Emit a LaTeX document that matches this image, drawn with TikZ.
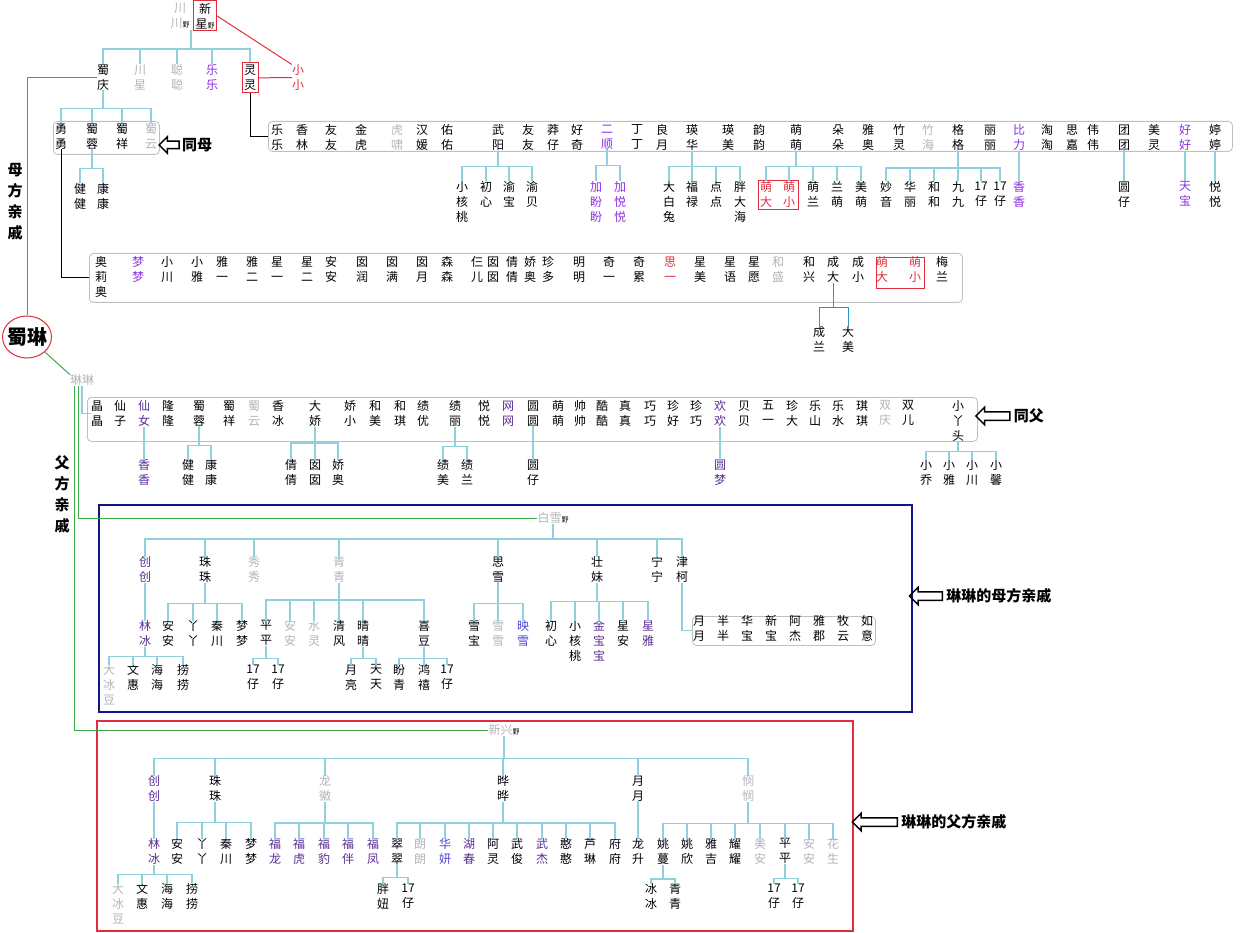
\documentclass[tikz,border=0pt]{standalone}
\usepackage{fontspec}
\setmainfont{Noto Sans CJK SC}
\usepackage{tikz}
\usetikzlibrary{shapes.geometric,shapes.arrows,positioning}

\definecolor{lnblue}{RGB}{145,207,222}
\definecolor{lndeep}{RGB}{40,150,205}
\definecolor{grayname}{RGB}{180,180,180}
\definecolor{purpname}{RGB}{140,45,230}
\definecolor{deepname}{RGB}{90,45,150}
\definecolor{bluename}{RGB}{75,70,215}
\definecolor{redname}{RGB}{225,45,60}
\definecolor{greenln}{RGB}{60,170,70}
\definecolor{navybox}{RGB}{20,20,135}

\newcommand{\yee}{{\color{black}\fontsize{7}{7}\selectfont 野}}

\begin{document}
\begin{tikzpicture}[x=1pt,y=-1pt]

\tikzstyle{nm}=[align=center,inner sep=0pt,anchor=north,yshift=5.5pt,font=\fontsize{12}{15}\selectfont]
\tikzstyle{gy}=[nm,text=grayname]
\tikzstyle{pu}=[nm,text=purpname]
\tikzstyle{dp}=[nm,text=deepname]
\tikzstyle{bp}=[nm,text=bluename]
\tikzstyle{rd}=[nm,text=redname]
\tikzstyle{redframe}=[draw=redname,line width=1pt,inner sep=2pt,yshift=2pt]
\tikzstyle{rowbox}=[draw=gray!50,line width=0.8pt,rounded corners=4pt,anchor=north west,inner sep=0pt]
\tikzstyle{frame}=[line width=1pt,anchor=north west,inner sep=0pt]
\tikzstyle{ln}=[draw=lnblue,line width=1.1pt]
\tikzstyle{gl}=[draw=greenln,line width=1pt]
\tikzstyle{tag}=[single arrow,draw,line width=1.5pt,shape border rotate=180,inner sep=0pt,single arrow head extend=4.5pt,single arrow head indent=0pt]
\tikzstyle{tagtext}=[font=\fontsize{15}{15}\selectfont\bfseries,inner sep=1pt]
\tikzstyle{side}=[align=center,font=\fontsize{15}{21}\selectfont\bfseries,inner sep=0pt]

\useasboundingbox (0,0) rectangle (1256,933);

% Grandparents
\node[gy] (chuan) at (180,8) {川\\川\yee};
\node[nm,redframe] (xinxing) at (205,8) {新\\星\yee};
\coordinate (grand) at (191,30);

% Their children
\node[nm] (shuqing) at (103,70) {蜀\\庆};
\node[gy] (chuanxing) at (140,70) {川\\星};
\node[gy] (congcong) at (177,70) {聪\\聪};
\node[pu] (lele) at (212,70) {乐\\乐};
\node[nm,redframe] (lingling) at (250,70) {灵\\灵};
\node[rd] (xiaoxiao) at (298,70) {小\\小};
\foreach \c in {shuqing,chuanxing,congcong,lele,lingling}
  \draw[ln] (grand) -- ++(0,19) -| (\c.north);
\draw[redname,line width=1pt] (xinxing.east) -- (xiaoxiao.north west);
\draw[redname,line width=1pt] (lingling.east) -- (xiaoxiao.west);

% Shulin and side labels
\node[ellipse,draw=redname,line width=1pt,minimum width=49,minimum height=42,inner sep=0pt] (shulin) at (27,337) {\makebox[0pt]{\fontsize{20}{20}\selectfont\bfseries 蜀琳}};
\node[side] (mufang) at (15,202) {母\\方\\亲\\戚};
\node[side] (fufang) at (62,494) {父\\方\\亲\\戚};
\draw[gl] (shuqing.west) -| (shulin.north);

% Shuqing's children
\node[rowbox,minimum width=106,minimum height=33] (box0) at (53,121) {};
\foreach \x/\t/\s [count=\i] in {61/勇\\勇/nm,92/蜀\\蓉/nm,122/蜀\\祥/nm,151/蜀\\云/gy}
  \node[\s] (q\i) at (\x,129) {\t};
\foreach \i in {1,...,4}
  \draw[ln] (shuqing.south) -- ++(0,18) -| (q\i.north);
\node[tag,minimum height=20] (tag0) at (171,145) {\rule{0pt}{6pt}};
\node[tagtext,right=1pt of tag0] (tongmu) {同母};
\node[nm] (jian) at (80,189) {健\\健};
\node[nm] (kang) at (103,189) {康\\康};
\foreach \c in {jian,kang}
  \draw[ln] (q2.south) -- ++(0,19) -| (\c.north);

% Lingling's row
\node[rowbox,minimum width=964,minimum height=30] (box1) at (268,121) {};
\foreach \x/\t/\s [count=\i] in {277/乐\\乐/nm,302/香\\林/nm,331/友\\友/nm,361/金\\虎/nm,
  397/虎\\啸/gy,422/汉\\媛/nm,447/佑\\佑/nm,498/武\\阳/nm,528/友\\友/nm,553/莽\\仔/nm,
  577/好\\奇/nm,607/二\\顺/pu,637/丁\\丁/nm,662/良\\月/nm,692/瑛\\华/nm,728/瑛\\美/nm,
  759/韵\\韵/nm,796/萌\\萌/nm,838/朵\\朵/nm,868/雅\\奥/nm,899/竹\\灵/nm,928/竹\\海/gy,
  958/格\\格/nm,990/丽\\丽/nm,1019/比\\力/pu,1047/淘\\淘/nm,1072/思\\嘉/nm,1093/伟\\伟/nm,
  1124/团\\团/nm,1154/美\\灵/nm,1185/好\\好/pu,1215/婷\\婷/nm}
  \node[\s] (a\i) at (\x,130) {\t};
\draw[line width=1pt] (lingling.south) |- (box1.west);

\foreach \x/\t/\s [count=\i] in {462/小\\核\\桃/nm,486/初\\心/nm,509/渝\\宝/nm,532/渝\\贝/nm,
  596/加\\盼\\盼/pu,620/加\\悦\\悦/pu,669/大\\白\\兔/nm,692/福\\禄/nm,716/点\\点/nm,
  740/胖\\大\\海/nm,766/萌\\大/rd,789/萌\\小/rd,813/萌\\兰/nm,837/兰\\萌/nm,861/美\\萌/nm,
  886/妙\\音/nm,910/华\\丽/nm,934/和\\和/nm,958/九\\九/nm,981/17\\仔/nm,1000/17\\仔/nm,
  1019/香\\香/pu,1124/圆\\仔/nm,1185/天\\宝/pu,1215/悦\\悦/nm}
  \node[\s] (b\i) at (\x,187) {\t};
\node[frame,draw=redname,minimum width=40,minimum height=29] (mengframe) at (758,180) {};
\foreach \i in {1,...,4} \draw[ln] (a8.south) -- ++(0,16) -| (b\i.north);
\foreach \i in {5,6} \draw[ln] (a12.south) -- ++(0,16) -| (b\i.north);
\foreach \i in {7,...,10} \draw[ln] (a15.south) -- ++(0,16) -| (b\i.north);
\foreach \i in {11,...,15} \draw[ln] (a18.south) -- ++(0,16) -| (b\i.north);
\foreach \i in {16,...,21} \draw[ln] (a23.south) -- ++(0,17) -| (b\i.north);
\draw[ln] (a25.south) -- (b22.north);
\draw[ln] (a29.south) -- (b23.north);
\draw[ln] (a31.south) -- (b24.north);
\draw[ln] (a32.south) -- (b25.north);

% Yongyong's row
\node[rowbox,minimum width=873,minimum height=49] (box2) at (89,253) {};
\foreach \x/\t/\s [count=\i] in {101/奥\\莉\\奥/nm,138/梦\\梦/pu,167/小\\川/nm,197/小\\雅/nm,
  222/雅\\一/nm,252/雅\\二/nm,277/星\\一/nm,307/星\\二/nm,331/安\\安/nm,362/囡\\润/nm,
  392/囡\\满/nm,422/囡\\月/nm,447/森\\森/nm,477/仨\\儿/nm,493/囡\\囡/nm,512/倩\\倩/nm,
  530/娇\\奥/nm,548/珍\\多/nm,579/明\\明/nm,609/奇\\一/nm,639/奇\\累/nm,670/思\\一/rd,
  700/星\\美/nm,730/星\\语/nm,754/星\\愿/nm,778/和\\盛/gy,809/和\\兴/nm,833/成\\大/nm,
  858/成\\小/nm,882/萌\\大/rd,915/萌\\小/rd,942/梅\\兰/nm}
  \node[\s] (c\i) at (\x,262) {\t};
\node[frame,draw=redname,minimum width=48,minimum height=31] (mengframe2) at (876,257) {};
\draw[line width=1pt] (q1.south) |- (box2.west);
\node[nm] (d1) at (819,332) {成\\兰};
\node[nm] (d2) at (848,332) {大\\美};
\foreach \i in {1,2} \draw[draw=lndeep,line width=1pt] (c28.south) -- ++(0,25) -| (d\i.north);

% Linlin and the half siblings
\node[gy] (linlin) at (82,380) {琳琳};
\draw[gl] (shulin.-40) -- (linlin.north west);
\node[rowbox,minimum width=890,minimum height=44] (box3) at (87,397) {};
\foreach \x/\t/\s [count=\i] in {97/晶\\晶/nm,120/仙\\子/nm,144/仙\\女/dp,168/隆\\隆/nm,
  199/蜀\\蓉/nm,229/蜀\\祥/nm,254/蜀\\云/gy,278/香\\冰/nm,315/大\\娇/nm,350/娇\\小/nm,
  375/和\\美/nm,400/和\\琪/nm,423/绩\\优/nm,455/绩\\丽/nm,484/悦\\悦/nm,508/网\\网/dp,
  533/圆\\圆/nm,558/萌\\萌/nm,580/帅\\帅/nm,602/酷\\酷/nm,625/真\\真/nm,650/巧\\巧/nm,
  673/珍\\好/nm,696/珍\\巧/nm,720/欢\\欢/dp,744/贝\\贝/nm,768/五\\一/nm,792/珍\\大/nm,
  815/乐\\山/nm,838/乐\\水/nm,862/琪\\琪/nm,885/双\\庆/gy,908/双\\儿/nm,958/小\\丫\\头/nm}
  \node[\s] (e\i) at (\x,406) {\t};
\draw[ln] (linlin.south) |- (e1.west);
\node[tag,minimum height=34] (tag1) at (995,416) {\rule{0pt}{7pt}};
\node[tagtext,right=2pt of tag1] (tongfu) {同父};

\foreach \x/\t/\s [count=\i] in {144/香\\香/dp,188/健\\健/nm,211/康\\康/nm,291/倩\\倩/nm,
  315/囡\\囡/nm,338/娇\\奥/nm,443/绩\\美/nm,467/绩\\兰/nm,533/圆\\仔/nm,720/圆\\梦/dp,
  926/小\\乔/nm,949/小\\雅/nm,972/小\\川/nm,996/小\\馨/nm}
  \node[\s] (f\i) at (\x,465) {\t};
\draw[ln] (e3.south) -- (f1.north);
\foreach \i in {2,3} \draw[ln] (e5.south) -- ++(0,19) -| (f\i.north);
\foreach \i in {4,5,6} \draw[ln] (e9.south) -- ++(0,16) -| (f\i.north);
\foreach \i in {7,8} \draw[ln] (e14.south) -- ++(0,20) -| (f\i.north);
\draw[ln] (e17.south) -- (f9.north);
\draw[ln] (e25.south) -- (f10.north);
\foreach \i in {11,...,14} \draw[ln] (e34.south) -- ++(0,10) -| (f\i.north);

% Mother side
\node[frame,draw=navybox,line width=1.6pt,minimum width=813,minimum height=207] (mombox) at (98,504) {};
\node[tag,minimum height=33] (tag2) at (928,596) {\rule{0pt}{7pt}};
\node[tagtext,right=2pt of tag2] (momtext) {琳琳的母方亲戚};
\node[gy] (baixue) at (553,518) {白雪\yee};
\draw[gl] ([xshift=-4pt]linlin.south) |- (baixue.west);

\foreach \x/\t/\s [count=\i] in {145/创\\创/dp,205/珠\\珠/nm,254/秀\\秀/gy,339/青\\青/gy,
  498/思\\雪/nm,597/壮\\妹/nm,657/宁\\宁/nm,682/津\\柯/nm}
  \node[\s] (g\i) at (\x,562) {\t};
\foreach \i in {1,...,8} \draw[ln] (baixue.south) -- ++(0,15) -| (g\i.north);

\foreach \x/\t/\s [count=\i] in {145/林\\冰/dp,168/安\\安/nm,193/丫\\丫/nm,217/秦\\川/nm,
  242/梦\\梦/nm,266/平\\平/nm,290/安\\安/gy,314/水\\灵/gy,339/清\\风/nm,363/晴\\晴/nm,
  424/喜\\豆/nm,474/雪\\宝/nm,498/雪\\雪/gy,523/映\\雪/bp,551/初\\心/nm,575/小\\核\\桃/nm,
  599/金\\宝\\宝/dp,623/星\\安/nm,648/星\\雅/dp}
  \node[\s] (h\i) at (\x,626) {\t};
\draw[ln] (g1.south) -- (h1.north);
\foreach \i in {2,...,5} \draw[ln] (g2.south) -- ++(0,21) -| (h\i.north);
\foreach \i in {6,...,11} \draw[ln] (g4.south) -- ++(0,17) -| (h\i.north);
\foreach \i in {12,13,14} \draw[ln] (g5.south) -- ++(0,21) -| (h\i.north);
\foreach \i in {15,...,19} \draw[ln] (g6.south) -- ++(0,19) -| (h\i.north);

\node[rowbox,minimum width=183,minimum height=29] (box4) at (692,616) {};
\foreach \x/\t [count=\i] in {699/月\\月,723/半\\半,747/华\\宝,771/新\\宝,795/阿\\杰,
  819/雅\\郡,843/牧\\云,867/如\\意}
  \node[nm] (p\i) at (\x,621) {\t};
\draw[ln] (g8.south) |- (box4.west);

\foreach \x/\t/\s [count=\i] in {109/大\\冰\\豆/gy,133/文\\惠/nm,157/海\\海/nm,183/捞\\捞/nm,
  253/17\\仔/nm,278/17\\仔/nm,351/月\\亮/nm,376/天\\天/nm,399/盼\\青/nm,424/鸿\\禧/nm,
  447/17\\仔/nm}
  \node[\s] (j\i) at (\x,670) {\t};
\foreach \i in {1,...,4} \draw[ln] (h1.south) -- ++(0,10) -| (j\i.north);
\foreach \i in {5,6} \draw[ln] (h6.south) -- ++(0,12) -| (j\i.north);
\foreach \i in {7,8} \draw[ln] (h10.south) -- ++(0,12) -| (j\i.north);
\foreach \i in {9,10,11} \draw[ln] (h11.south) -- ++(0,12) -| (j\i.north);

% Father side
\node[frame,draw=redname,line width=1.6pt,minimum width=756,minimum height=210] (dadbox) at (96,720) {};
\node[tag,minimum height=45] (tag3) at (877,822) {\rule{0pt}{7pt}};
\node[tagtext,right=2pt of tag3] (dadtext) {琳琳的父方亲戚};
\node[gy] (xinxingfu) at (504,730) {新兴\yee};
\draw[gl] ([xshift=-8pt]linlin.south) |- (xinxingfu.west);

\foreach \x/\t/\s [count=\i] in {154/创\\创/dp,215/珠\\珠/nm,325/龙\\徽/gy,503/晔\\晔/nm,
  638/月\\月/nm,748/悯\\悯/gy}
  \node[\s] (k\i) at (\x,781) {\t};
\foreach \i in {1,...,6} \draw[ln] (xinxingfu.south) -- ++(0,23) -| (k\i.north);

\foreach \x/\t/\s [count=\i] in {154/林\\冰/dp,177/安\\安/nm,202/丫\\丫/nm,226/秦\\川/nm,
  251/梦\\梦/nm,275/福\\龙/dp,299/福\\虎/dp,324/福\\豹/dp,348/福\\伴/dp,373/福\\凤/dp,
  397/翠\\翠/nm,420/朗\\朗/gy,445/华\\妍/bp,469/湖\\春/dp,493/阿\\灵/nm,517/武\\俊/nm,
  542/武\\杰/dp,566/憨\\憨/nm,590/芦\\琳/nm,615/府\\府/nm,638/龙\\升/nm,663/姚\\蔓/nm,
  687/姚\\欣/nm,711/雅\\吉/nm,735/耀\\耀/nm,760/美\\安/gy,785/平\\平/nm,809/安\\安/gy,
  833/花\\生/gy}
  \node[\s] (l\i) at (\x,844) {\t};
\draw[ln] (k1.south) -- (l1.north);
\foreach \i in {2,...,5} \draw[ln] (k2.south) -- ++(0,21) -| (l\i.north);
\foreach \i in {6,...,10} \draw[ln] (k3.south) -- ++(0,21) -| (l\i.north);
\foreach \i in {11,...,20} \draw[ln] (k4.south) -- ++(0,21) -| (l\i.north);
\draw[ln] (k5.south) -- (l21.north);
\foreach \i in {22,...,29} \draw[ln] (k6.south) -- ++(0,22) -| (l\i.north);

\foreach \x/\t/\s [count=\i] in {118/大\\冰\\豆/gy,142/文\\惠/nm,167/海\\海/nm,192/捞\\捞/nm,
  383/胖\\妞/nm,408/17\\仔/nm,651/冰\\冰/nm,675/青\\青/nm,774/17\\仔/nm,798/17\\仔/nm}
  \node[\s] (n\i) at (\x,889) {\t};
\foreach \i in {1,...,4} \draw[ln] (l1.south) -- ++(0,10) -| (n\i.north);
\foreach \i in {5,6} \draw[ln] (l11.south) -- ++(0,13) -| (n\i.north);
\foreach \i in {7,8} \draw[ln] (l22.south) -- ++(0,14) -| (n\i.north);
\foreach \i in {9,10} \draw[ln] (l27.south) -- ++(0,14) -| (n\i.north);

\end{tikzpicture}
\end{document}
